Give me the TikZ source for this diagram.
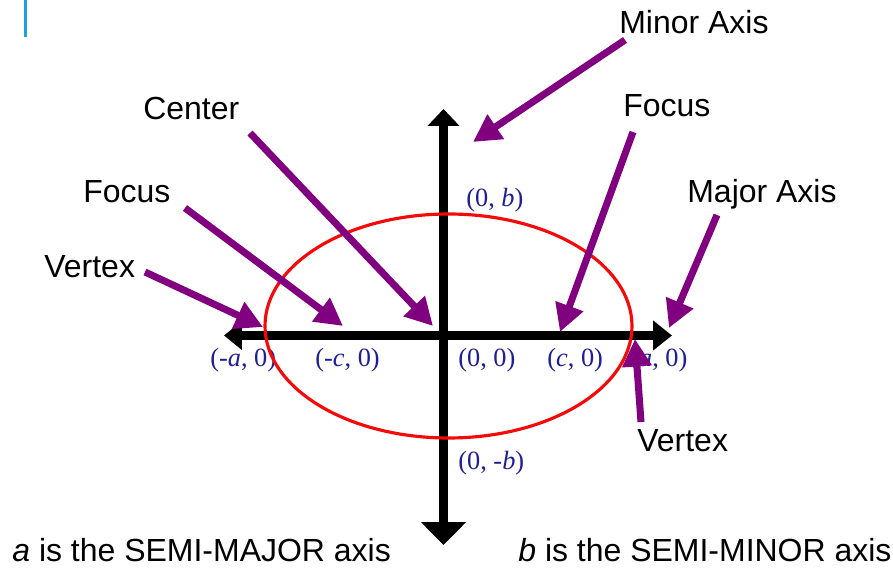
\documentclass[tikz,border=0pt]{standalone}
\usepackage{fontspec}
\setmainfont{Liberation Sans}
\newfontfamily\coordfont{Liberation Serif}
\usepackage{tikz}
\usetikzlibrary{arrows.meta}
\definecolor{arrowpurple}{RGB}{128,0,128}
\definecolor{ptblue}{RGB}{30,30,150}
\definecolor{ellred}{RGB}{245,10,10}
\definecolor{cursorblue}{RGB}{27,161,226}

\begin{document}
\begin{tikzpicture}[x=.02cm,y=-.02cm,
  lbl/.style={anchor=base west,inner sep=0pt,font=\fontsize{18.2pt}{20pt}\selectfont},
  pt/.style={anchor=base west,inner sep=0pt,text=ptblue,font=\coordfont\fontsize{15pt}{17pt}\selectfont},
  pointer/.style={arrowpurple,line width=4pt,-{Triangle[length=.55cm,width=.56cm]}}]
\useasboundingbox (0,0) rectangle (893,570);
\draw[cursorblue,line width=1.7pt] (25.5,0)--(25.5,37);
% axes
\coordinate (xl) at (224,335.5); \coordinate (xr) at (672,335.5);
\coordinate (yt) at (443.5,109); \coordinate (yb) at (443.5,545);
\draw[line width=4.8pt,{Triangle[length=.36cm,width=.56cm]}-{Triangle[length=.38cm,width=.58cm]}] (xl)--(xr);
\draw[line width=4.8pt,{Triangle[length=.34cm,width=.62cm]}-{Triangle[length=.46cm,width=.88cm]}] (yt)--(yb);
% points
\node[pt] (pb) at (466,207) {(0, \textit{b})};
\node[pt] (pma) at (210,367) {(-\textit{a}, 0)};
\node[pt] (pmc) at (315,367) {(-\textit{c}, 0)};
\node[pt] (po) at (458,367) {(0, 0)};
\node[pt] (pc) at (547,367) {(\textit{c}, 0)};
\node[pt] (pa) at (630,367) {(\textit{a}, 0)};
\node[pt] (pmb) at (458,470) {(0, -\textit{b})};
% ellipse
\draw[ellred,line width=1.8pt] (448.5,326) ellipse [x radius=183.5,y radius=112];
% labels
\node[lbl] (minor) at (619,34) {Minor Axis};
\node[lbl] (center) at (143,120) {Center};
\node[lbl] (focusl) at (83,203) {Focus};
\node[lbl] (vertexl) at (44,278) {Vertex};
\node[lbl] (focusr) at (623,117) {Focus};
\node[lbl] (major) at (687,203) {Major Axis};
\node[lbl] (vertexr) at (637,452) {Vertex};
\node[lbl] (semimaj) at (12,562) {\textit{a} is the SEMI-MAJOR axis};
\node[lbl] (semimin) at (518,562) {\textit{b} is the SEMI-MINOR axis};
% pointers
\foreach \n/\tx/\ty/\hx/\hy in {minor/625/40/473/142,center/250/133/433/326,focusl/185/208/343/326,
  vertexl/145/272/263/327,focusr/633/132/560/332,major/717/215/669/328,vertexr/641/422/635/339}{
  \coordinate (\n-t) at (\tx,\ty); \coordinate (\n-h) at (\hx,\hy);
  \draw[pointer] (\n-t)--(\n-h);
}
\end{tikzpicture}
\end{document}
